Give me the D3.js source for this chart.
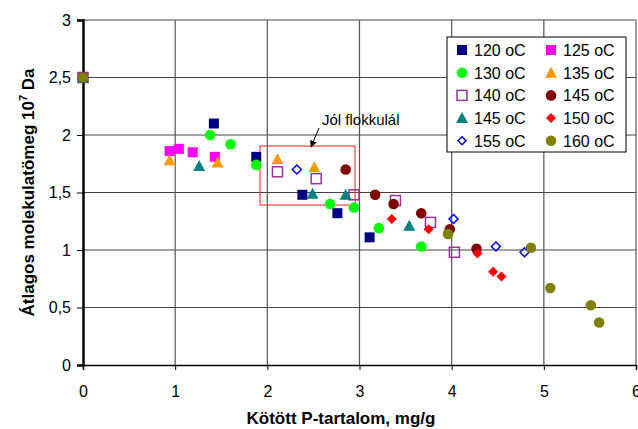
<!DOCTYPE html>
<html>
<head>
<meta charset="utf-8">
<script src="https://cdn.jsdelivr.net/npm/d3@7"></script>
<style>
  body { margin: 0; background: #fff; }
  svg { font-family: "Liberation Sans", Arial, sans-serif; }
</style>
</head>
<body>
<svg id="chart" width="638" height="429"></svg>
<script>
// series data: [x (mg/g), y (10^7 Da)]
const s120 = [[0, 2.5], [1.42, 2.10], [1.88, 1.81], [2.38, 1.48], [2.76, 1.32], [3.11, 1.11]];
const s125 = [[0, 2.5], [0.94, 1.86], [1.04, 1.88], [1.19, 1.85], [1.43, 1.81]];
const s130 = [[0, 2.5], [1.38, 2.0], [1.6, 1.92], [1.88, 1.74], [2.68, 1.40], [2.94, 1.37], [3.21, 1.19], [3.67, 1.03]];
const s135 = [[0, 2.5], [0.94, 1.78], [1.46, 1.76], [2.11, 1.79], [2.51, 1.72]];
const s140 = [[0, 2.5], [2.11, 1.68], [2.53, 1.62], [2.94, 1.48], [3.39, 1.43], [3.77, 1.24], [4.03, 0.98]];
const s145a = [[0, 2.5], [2.85, 1.70], [3.17, 1.48], [3.37, 1.40], [3.67, 1.32], [3.98, 1.18], [4.27, 1.01]];
const s145b = [[0, 2.5], [1.26, 1.73], [2.49, 1.49], [2.85, 1.48], [3.54, 1.21]];
const s150 = [[0, 2.5], [3.35, 1.27], [3.75, 1.18], [4.28, 0.97], [4.45, 0.81], [4.54, 0.77]];
const s155 = [[0, 2.5], [2.32, 1.70], [4.02, 1.27], [4.48, 1.03], [4.79, 0.98]];
const s160 = [[0, 2.5], [3.96, 1.14], [4.86, 1.02], [5.07, 0.67], [5.51, 0.52], [5.60, 0.37]];

const seriesNames = ["120 oC", "125 oC", "130 oC", "135 oC", "140 oC", "145 oC", "145 oC", "150 oC", "155 oC", "160 oC"];
const xTicks = [0, 1, 2, 3, 4, 5, 6];
const yTicks = [0, 0.5, 1, 1.5, 2, 2.5, 3];

const series = [
  { name: seriesNames[0], data: s120, shape: "square", fill: "#000080", stroke: "none" },
  { name: seriesNames[1], data: s125, shape: "square", fill: "#ff00ff", stroke: "none" },
  { name: seriesNames[2], data: s130, shape: "circle", fill: "#00ff00", stroke: "none" },
  { name: seriesNames[3], data: s135, shape: "triangle", fill: "#ff9900", stroke: "none" },
  { name: seriesNames[4], data: s140, shape: "square", fill: "none", stroke: "#993399" },
  { name: seriesNames[5], data: s145a, shape: "circle", fill: "#800000", stroke: "none" },
  { name: seriesNames[6], data: s145b, shape: "triangle", fill: "#008080", stroke: "none" },
  { name: seriesNames[7], data: s150, shape: "diamond", fill: "#ff0000", stroke: "none" },
  { name: seriesNames[8], data: s155, shape: "diamond", fill: "none", stroke: "#0000ff" },
  { name: seriesNames[9], data: s160, shape: "circle", fill: "#808000", stroke: "none" }
];

const svg = d3.select("#chart");
const margin = { top: 20, right: 2, bottom: 64, left: 83 };
const W = 638, H = 429;

const x = d3.scaleLinear().domain([0, 6]).range([margin.left, W - margin.right]);
const y = d3.scaleLinear().domain([0, 3]).range([H - margin.bottom, margin.top]);

// gridlines
svg.append("g").selectAll("line.hg").data(yTicks.slice(1)).join("line")
  .attr("x1", x(0)).attr("x2", x(6))
  .attr("y1", d => y(d)).attr("y2", d => y(d))
  .attr("stroke", "#444").attr("stroke-width", 1.2);
svg.append("g").selectAll("line.vg").data(xTicks.slice(1)).join("line")
  .attr("y1", y(0)).attr("y2", y(3))
  .attr("x1", d => x(d)).attr("x2", d => x(d))
  .attr("stroke", "#555").attr("stroke-width", 1.2);

// axes
const xAxis = svg.append("g")
  .attr("transform", `translate(0,${y(0)})`)
  .call(d3.axisBottom(x).tickValues(xTicks).tickSize(5).tickPadding(16).tickFormat(d3.format("d")));
const yAxis = svg.append("g")
  .attr("transform", `translate(${x(0)},0)`)
  .call(d3.axisLeft(y).tickValues(yTicks).tickSize(6).tickPadding(6)
    .tickFormat(d => String(d).replace(".", ",")));
[xAxis, yAxis].forEach(a => {
  a.selectAll("text").attr("font-size", 16).attr("fill", "#000")
    .style("font-family", "'Liberation Sans', Arial, sans-serif");
  a.selectAll("line").attr("stroke", "#000");
});
xAxis.select(".domain").attr("stroke", "#000").attr("stroke-width", 1.5);
yAxis.select(".domain").attr("stroke", "#000").attr("stroke-width", 2.5);

// axis titles
svg.append("text")
  .attr("x", 341).attr("y", 424)
  .attr("text-anchor", "middle")
  .attr("font-size", 17).attr("font-weight", "bold")
  .text("Kötött P-tartalom, mg/g");

const yt = svg.append("text")
  .attr("transform", `translate(34,${(y(0) + y(3)) / 2 + 0}) rotate(-90)`)
  .attr("text-anchor", "middle")
  .attr("font-size", 17).attr("font-weight", "bold");
yt.append("tspan").text("Átlagos molekulatömeg 10");
yt.append("tspan").attr("font-size", 11).attr("dy", -7).text("7");
yt.append("tspan").attr("dy", 7).text(" Da");

// annotation
svg.append("rect")
  .attr("x", 260).attr("y", 146).attr("width", 95).attr("height", 59)
  .attr("fill", "none").attr("stroke", "#ff4040").attr("stroke-width", 1.2);

svg.append("defs").append("marker")
  .attr("id", "arrow").attr("viewBox", "0 0 10 10")
  .attr("refX", 9).attr("refY", 5)
  .attr("markerWidth", 7).attr("markerHeight", 7)
  .attr("orient", "auto")
  .append("path").attr("d", "M0,0 L10,5 L0,10 Z").attr("fill", "#000");

svg.append("line")
  .attr("x1", 319).attr("y1", 128).attr("x2", 311).attr("y2", 147)
  .attr("stroke", "#000").attr("stroke-width", 1)
  .attr("marker-end", "url(#arrow)");

svg.append("text")
  .attr("x", 322).attr("y", 125)
  .attr("font-size", 15)
  .text("Jól flokkulál");

// markers
function drawMarker(sel, shape, size) {
  const r = size / 2;
  if (shape === "square") {
    sel.append("rect").attr("x", -r).attr("y", -r).attr("width", size).attr("height", size);
  } else if (shape === "circle") {
    sel.append("circle").attr("r", r + 0.3);
  } else if (shape === "triangle") {
    sel.append("path").attr("d", `M0,${-r - 1} L${r + 1},${r} L${-r - 1},${r} Z`);
  } else if (shape === "diamond") {
    sel.append("path").attr("d", `M0,${-r} L${r},0 L0,${r} L${-r},0 Z`);
  }
}

series.forEach(s => {
  const g = svg.append("g");
  s.data.forEach(d => {
    const m = g.append("g").attr("transform", `translate(${x(d[0])},${y(d[1])})`);
    drawMarker(m, s.shape, s.shape === "diamond" && s.fill === "none" ? 9 : 10);
    m.selectAll("*")
      .attr("fill", s.fill === "none" ? "#fff" : s.fill)
      .attr("fill-opacity", s.fill === "none" ? 0 : 1)
      .attr("stroke", s.stroke === "none" ? "none" : s.stroke)
      .attr("stroke-width", 1.5);
  });
});

// legend
const lg = svg.append("g").attr("transform", "translate(447,37)");
lg.append("rect").attr("width", 179).attr("height", 115)
  .attr("fill", "#fff").attr("stroke", "#000").attr("stroke-width", 1);

series.forEach((s, i) => {
  const col = i % 2, row = Math.floor(i / 2);
  const gx = 15 + col * 89, gy = 13 + row * 22.7;
  const m = lg.append("g").attr("transform", `translate(${gx},${gy})`);
  drawMarker(m, s.shape, s.shape === "diamond" && s.fill === "none" ? 8 : 10);
  m.selectAll("*")
    .attr("fill", s.fill === "none" ? "#fff" : s.fill)
    .attr("fill-opacity", s.fill === "none" ? 0 : 1)
    .attr("stroke", s.stroke === "none" ? "none" : s.stroke)
    .attr("stroke-width", 1.5);
  lg.append("text")
    .attr("x", gx + 12).attr("y", gy + 6)
    .attr("font-size", 16)
    .text(s.name);
});
</script>
</body>
</html>
